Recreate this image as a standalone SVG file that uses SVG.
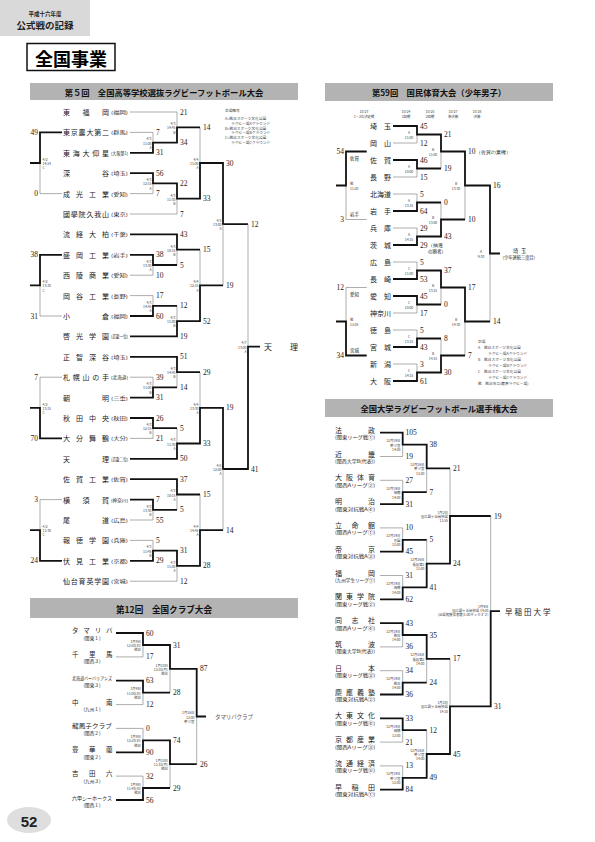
<svg xmlns="http://www.w3.org/2000/svg" width="595" height="842" viewBox="0 0 595 842">
<style>
text{font-family:"Noto Sans CJK JP","Noto Sans CJK SC",sans-serif;dominant-baseline:central;fill:#222}
.tn{font-size:7px}
.pf{font-size:4.2px}
.sc{font-family:"Liberation Serif",serif;font-size:7.5px}
.dl{font-size:3.4px;fill:#444;text-anchor:end}
.dls{font-size:3.4px;fill:#444}
.dlm{font-size:3.4px;fill:#444;text-anchor:middle}
.lg{font-size:3.7px;fill:#444}
.bar{fill:#b3b3b3}
.bt{font-size:8.3px;font-weight:bold;text-anchor:middle;fill:#111}
.th{stroke:#8a8a8a;stroke-width:0.7;fill:none}
.bd{stroke:#111;stroke-width:1.8;fill:none}
.sub{font-size:4.6px;text-anchor:middle}
.usub{font-size:4.6px}
.e{text-anchor:end}
</style>
<rect width="595" height="842" fill="#fff"/>
<!-- page header -->
<g id="page-header">
<rect x="0" y="0" width="90" height="36" fill="#d9d9d9"/>
<text x="45" y="14" style="font-size:5.5px;font-weight:bold;text-anchor:middle">平成十六年度</text>
<text x="45" y="25" style="font-size:9.5px;font-weight:bold;text-anchor:middle">公式戦の記録</text>
<rect x="27" y="43.5" width="88" height="27" fill="#fff" stroke="#111" stroke-width="1.5"/>
<text x="71" y="57.5" style="font-size:18px;font-weight:bold;text-anchor:middle;fill:#000">全国事業</text>
</g>
<g id="page-number">
<ellipse cx="29" cy="820" rx="22" ry="13" fill="#dedede"/>
<text x="29" y="821" style="font-family:'Liberation Sans',sans-serif;font-size:15px;font-weight:bold;text-anchor:middle;fill:#222">52</text>
</g>

<!-- ===== Section 1: High school ===== -->
<g id="hs-header"><rect class="bar" x="30" y="83" width="268" height="17"/><text class="bt" x="164" y="91.5">第５回　全国高等学校選抜ラグビーフットボール大会</text></g>
<g id="hs-legend">
<text class="lg" x="225" y="110">会場略号</text>
<text class="lg" x="225" y="118.5">A=熊谷スポーツ文化公園</text>
<text class="lg" x="231" y="123">ラグビー場Aグラウンド</text>
<text class="lg" x="225" y="128">B=熊谷スポーツ文化公園</text>
<text class="lg" x="231" y="132.5">ラグビー場Bグラウンド</text>
<text class="lg" x="225" y="137.5">C=熊谷スポーツ文化公園</text>
<text class="lg" x="231" y="142">ラグビー場Cグラウンド</text>
</g>
<g id="hs-t0"><text class="tn" x="63 82.5 102" y="112">東福岡</text><text class="pf" x="111" y="112" textLength="17" lengthAdjust="spacingAndGlyphs">(福岡)</text></g>
<g id="hs-t1"><text class="tn" x="63 70.8 78.6 86.4 94.2 102" y="132.4">東京農大第二</text><text class="pf" x="111" y="132.4" textLength="17" lengthAdjust="spacingAndGlyphs">(群馬)</text></g>
<g id="hs-t2"><text class="tn" x="63 72.75 82.5 92.25 102" y="152.8">東海大仰星</text><text class="pf" x="111" y="152.8" textLength="17" lengthAdjust="spacingAndGlyphs">(大阪第1)</text></g>
<g id="hs-t3"><text class="tn" x="63 102" y="173.2">深谷</text><text class="pf" x="111" y="173.2" textLength="17" lengthAdjust="spacingAndGlyphs">(埼玉)</text></g>
<g id="hs-t4"><text class="tn" x="63 76 89 102" y="193.6">成光工業</text><text class="pf" x="111" y="193.6" textLength="17" lengthAdjust="spacingAndGlyphs">(愛知)</text></g>
<g id="hs-t5"><text class="tn" x="63 70.8 78.6 86.4 94.2 102" y="214">國學院久我山</text><text class="pf" x="111" y="214" textLength="17" lengthAdjust="spacingAndGlyphs">(東京)</text></g>
<g id="hs-t6"><text class="tn" x="63 76 89 102" y="234.4">流経大柏</text><text class="pf" x="111" y="234.4" textLength="17" lengthAdjust="spacingAndGlyphs">(千葉)</text></g>
<g id="hs-t7"><text class="tn" x="63 76 89 102" y="254.8">盛岡工業</text><text class="pf" x="111" y="254.8" textLength="17" lengthAdjust="spacingAndGlyphs">(岩手)</text></g>
<g id="hs-t8"><text class="tn" x="63 76 89 102" y="275.2">西陵商業</text><text class="pf" x="111" y="275.2" textLength="17" lengthAdjust="spacingAndGlyphs">(愛知)</text></g>
<g id="hs-t9"><text class="tn" x="63 76 89 102" y="295.6">岡谷工業</text><text class="pf" x="111" y="295.6" textLength="17" lengthAdjust="spacingAndGlyphs">(長野)</text></g>
<g id="hs-t10"><text class="tn" x="63 102" y="316">小倉</text><text class="pf" x="111" y="316" textLength="17" lengthAdjust="spacingAndGlyphs">(福岡)</text></g>
<g id="hs-t11"><text class="tn" x="63 76 89 102" y="336.4">啓光学園</text><text class="pf" x="111" y="336.4" textLength="17" lengthAdjust="spacingAndGlyphs">(近畿一位)</text></g>
<g id="hs-t12"><text class="tn" x="63 76 89 102" y="356.8">正智深谷</text><text class="pf" x="111" y="356.8" textLength="17" lengthAdjust="spacingAndGlyphs">(埼玉)</text></g>
<g id="hs-t13"><text class="tn" x="63 72.75 82.5 92.25 102" y="377.2">札幌山の手</text><text class="pf" x="111" y="377.2" textLength="17" lengthAdjust="spacingAndGlyphs">(北海道)</text></g>
<g id="hs-t14"><text class="tn" x="63 102" y="397.6">朝明</text><text class="pf" x="111" y="397.6" textLength="17" lengthAdjust="spacingAndGlyphs">(三重)</text></g>
<g id="hs-t15"><text class="tn" x="63 76 89 102" y="418">秋田中央</text><text class="pf" x="111" y="418" textLength="17" lengthAdjust="spacingAndGlyphs">(秋田)</text></g>
<g id="hs-t16"><text class="tn" x="63 76 89 102" y="438.4">大分舞鶴</text><text class="pf" x="111" y="438.4" textLength="17" lengthAdjust="spacingAndGlyphs">(大分)</text></g>
<g id="hs-t17"><text class="tn" x="63 102" y="458.8">天理</text><text class="pf" x="111" y="458.8" textLength="17" lengthAdjust="spacingAndGlyphs">(近畿二位)</text></g>
<g id="hs-t18"><text class="tn" x="63 76 89 102" y="479.2">佐賀工業</text><text class="pf" x="111" y="479.2" textLength="17" lengthAdjust="spacingAndGlyphs">(佐賀)</text></g>
<g id="hs-t19"><text class="tn" x="63 82.5 102" y="499.6">横須賀</text><text class="pf" x="111" y="499.6" textLength="17" lengthAdjust="spacingAndGlyphs">(神奈川)</text></g>
<g id="hs-t20"><text class="tn" x="63 102" y="520">尾道</text><text class="pf" x="111" y="520" textLength="17" lengthAdjust="spacingAndGlyphs">(広島)</text></g>
<g id="hs-t21"><text class="tn" x="63 76 89 102" y="540.4">報徳学園</text><text class="pf" x="111" y="540.4" textLength="17" lengthAdjust="spacingAndGlyphs">(兵庫)</text></g>
<g id="hs-t22"><text class="tn" x="63 76 89 102" y="560.8">伏見工業</text><text class="pf" x="111" y="560.8" textLength="17" lengthAdjust="spacingAndGlyphs">(京都)</text></g>
<g id="hs-t23"><text class="tn" x="63 70.8 78.6 86.4 94.2 102" y="581.2">仙台育英学園</text><text class="pf" x="111" y="581.2" textLength="17" lengthAdjust="spacingAndGlyphs">(宮城)</text></g>
<g id="hs-champion"><text x="264 290" y="346.6" style="font-size:8px">天理</text></g>

<g id="hs-connectors">
<path class="th" d="M130 112H177V127.3M130 132.4H153V142.6M130 193.6H153V183.4M130 214H177V198.7M200 127.3V163M40 163V193.6H62"/>
<path class="bd" d="M130 152.8H153V142.6H177V127.3H200M130 173.2H153V183.4H177V198.7H200V163H223V224.2H248M62 132.4H40V163H30"/>
<path class="th" d="M130 275.2H153V265M177 249.7V265M130 295.6H153V305.8M177 305.8V321.1M200 249.7V285.4M223 285.4V224.2M40 285.4V316H62M248 224.2V346.6"/>
<path class="bd" d="M130 234.4H177V249.7H200M130 254.8H153V265H177M130 316H153V305.8H177M130 336.4H177V321.1H200V285.4H223M62 254.8H40V285.4H30"/>
<path class="th" d="M130 377.2H153V387.4M177 372.1V387.4M130 438.4H153V428.2M177 428.2V443.5M200 372.1V407.8M62 377.2H40V407.8"/>
<path class="bd" d="M130 356.8H177V372.1H200M130 397.6H153V387.4H177M130 418H153V428.2H177M130 458.8H177V443.5H200V407.8H223V469H248V346.6H260M62 438.4H40V407.8H30"/>
<path class="th" d="M130 520H153V509.8M177 494.5V509.8M130 540.4H153V550.6M177 565.9V581.2H130M200 494.5V530.2M223 530.2V469M62 499.6H40V530.2"/>
<path class="bd" d="M130 479.2H177V494.5H200M130 499.6H153V509.8H177M130 560.8H153V550.6H177V565.9H200V530.2H223M62 560.8H40V530.2H30"/>
</g>

<g id="hs-scores" class="sc">
<text class="sc" x="180" y="112">21</text><text class="sc" x="156" y="132.4">7</text><text class="sc" x="156" y="152.8">31</text><text class="sc" x="180" y="142.6">34</text><text class="sc" x="203" y="127.3">14</text><text class="sc" x="156" y="173.2">56</text><text class="sc" x="156" y="193.6">7</text><text class="sc" x="180" y="183.4">22</text><text class="sc" x="180" y="214">7</text><text class="sc" x="203" y="198.7">33</text><text class="sc" x="226" y="163">30</text>
<text class="sc e" x="38" y="132.4">49</text><text class="sc e" x="38" y="193.6">0</text>
<text class="sc" x="180" y="234.4">43</text><text class="sc" x="156" y="254.8">38</text><text class="sc" x="156" y="275.2">10</text><text class="sc" x="180" y="265">5</text><text class="sc" x="203" y="249.7">15</text><text class="sc" x="156" y="295.6">17</text><text class="sc" x="156" y="316">60</text><text class="sc" x="180" y="305.8">12</text><text class="sc" x="180" y="336.4">19</text><text class="sc" x="203" y="321.1">52</text><text class="sc" x="226" y="285.4">19</text>
<text class="sc e" x="38" y="254.8">38</text><text class="sc e" x="38" y="316">31</text>
<text class="sc" x="180" y="356.8">51</text><text class="sc" x="156" y="377.2">39</text><text class="sc" x="156" y="397.6">31</text><text class="sc" x="180" y="387.4">14</text><text class="sc" x="203" y="372.1">29</text><text class="sc" x="156" y="418">26</text><text class="sc" x="156" y="438.4">21</text><text class="sc" x="180" y="428.2">5</text><text class="sc" x="180" y="458.8">50</text><text class="sc" x="203" y="443.5">33</text><text class="sc" x="226" y="407.8">19</text>
<text class="sc e" x="38" y="377.2">7</text><text class="sc e" x="38" y="438.4">70</text>
<text class="sc" x="180" y="479.2">37</text><text class="sc" x="156" y="499.6">7</text><text class="sc" x="156" y="520">55</text><text class="sc" x="180" y="509.8">5</text><text class="sc" x="203" y="494.5">15</text><text class="sc" x="156" y="540.4">5</text><text class="sc" x="156" y="560.8">29</text><text class="sc" x="180" y="550.6">31</text><text class="sc" x="180" y="581.2">12</text><text class="sc" x="203" y="565.9">28</text><text class="sc" x="226" y="530.2">14</text>
<text class="sc e" x="38" y="499.6">3</text><text class="sc e" x="38" y="560.8">24</text>
<text class="sc" x="251" y="224.2">12</text><text class="sc" x="251" y="469">41</text>
</g>

<g id="hs-dates">
<text class="dl" x="151.5" y="138.4"><tspan x="151.5">4/3</tspan><tspan x="151.5" dy="4.2">11:00</tspan><tspan x="151.5" dy="4.2">A</tspan></text>
<text class="dl" x="175.5" y="123.1"><tspan x="175.5">4/3</tspan><tspan x="175.5" dy="4.2">14:45</tspan><tspan x="175.5" dy="4.2">B</tspan></text>
<text class="dl" x="151.5" y="179.2"><tspan x="151.5">4/3</tspan><tspan x="151.5" dy="4.2">12:15</tspan><tspan x="151.5" dy="4.2">A</tspan></text>
<text class="dl" x="175.5" y="194.5"><tspan x="175.5">4/3</tspan><tspan x="175.5" dy="4.2">11:30</tspan><tspan x="175.5" dy="4.2">B</tspan></text>
<text class="dl" x="198.5" y="158.8"><tspan x="198.5">4/4</tspan><tspan x="198.5" dy="4.2">11:00</tspan><tspan x="198.5" dy="4.2">A</tspan></text>
<text class="dls" x="42.5" y="158.8"><tspan x="42.5">4/2</tspan><tspan x="42.5" dy="4.2">14:14</tspan><tspan x="42.5" dy="4.2">C</tspan></text>
<text class="dl" x="151.5" y="260.8"><tspan x="151.5">4/3</tspan><tspan x="151.5" dy="4.2">13:30</tspan><tspan x="151.5" dy="4.2">A</tspan></text>
<text class="dl" x="175.5" y="245.5"><tspan x="175.5">4/3</tspan><tspan x="175.5" dy="4.2">10:15</tspan><tspan x="175.5" dy="4.2">B</tspan></text>
<text class="dl" x="151.5" y="301.6"><tspan x="151.5">4/3</tspan><tspan x="151.5" dy="4.2">14:45</tspan><tspan x="151.5" dy="4.2">A</tspan></text>
<text class="dl" x="175.5" y="316.9"><tspan x="175.5">4/3</tspan><tspan x="175.5" dy="4.2">11:00</tspan><tspan x="175.5" dy="4.2">B</tspan></text>
<text class="dl" x="198.5" y="281.2"><tspan x="198.5">4/4</tspan><tspan x="198.5" dy="4.2">12:15</tspan><tspan x="198.5" dy="4.2">A</tspan></text>
<text class="dls" x="42.5" y="281.2"><tspan x="42.5">4/2</tspan><tspan x="42.5" dy="4.2">13:30</tspan><tspan x="42.5" dy="4.2">C</tspan></text>
<text class="dl" x="151.5" y="383.2"><tspan x="151.5">4/3</tspan><tspan x="151.5" dy="4.2">11:00</tspan><tspan x="151.5" dy="4.2">B</tspan></text>
<text class="dl" x="175.5" y="367.9"><tspan x="175.5">4/3</tspan><tspan x="175.5" dy="4.2">14:45</tspan><tspan x="175.5" dy="4.2">B</tspan></text>
<text class="dl" x="151.5" y="424"><tspan x="151.5">4/3</tspan><tspan x="151.5" dy="4.2">12:15</tspan><tspan x="151.5" dy="4.2">B</tspan></text>
<text class="dl" x="175.5" y="439.3"><tspan x="175.5">4/3</tspan><tspan x="175.5" dy="4.2">11:30</tspan><tspan x="175.5" dy="4.2">A</tspan></text>
<text class="dl" x="198.5" y="403.6"><tspan x="198.5">4/4</tspan><tspan x="198.5" dy="4.2">13:30</tspan><tspan x="198.5" dy="4.2">A</tspan></text>
<text class="dls" x="42.5" y="403.6"><tspan x="42.5">4/2</tspan><tspan x="42.5" dy="4.2">13:15</tspan><tspan x="42.5" dy="4.2">C</tspan></text>
<text class="dl" x="151.5" y="505.6"><tspan x="151.5">4/3</tspan><tspan x="151.5" dy="4.2">13:30</tspan><tspan x="151.5" dy="4.2">B</tspan></text>
<text class="dl" x="175.5" y="490.3"><tspan x="175.5">4/3</tspan><tspan x="175.5" dy="4.2">10:15</tspan><tspan x="175.5" dy="4.2">A</tspan></text>
<text class="dl" x="151.5" y="546.4"><tspan x="151.5">4/3</tspan><tspan x="151.5" dy="4.2">11:45</tspan><tspan x="151.5" dy="4.2">B</tspan></text>
<text class="dl" x="175.5" y="561.7"><tspan x="175.5">4/3</tspan><tspan x="175.5" dy="4.2">11:00</tspan><tspan x="175.5" dy="4.2">A</tspan></text>
<text class="dl" x="198.5" y="526"><tspan x="198.5">4/4</tspan><tspan x="198.5" dy="4.2">14:45</tspan><tspan x="198.5" dy="4.2">A</tspan></text>
<text class="dls" x="42.5" y="526"><tspan x="42.5">4/2</tspan><tspan x="42.5" dy="4.2">11:30</tspan><tspan x="42.5" dy="4.2">C</tspan></text>
<text class="dl" x="221.5" y="220"><tspan x="221.5">4/5</tspan><tspan x="221.5" dy="4.2">13:00</tspan><tspan x="221.5" dy="4.2">A</tspan></text>
<text class="dl" x="221.5" y="464.8"><tspan x="221.5">4/5</tspan><tspan x="221.5" dy="4.2">12:00</tspan><tspan x="221.5" dy="4.2">A</tspan></text>
<text class="dl" x="246.5" y="342.4"><tspan x="246.5">4/7</tspan><tspan x="246.5" dy="4.2">13:00</tspan><tspan x="246.5" dy="4.2">A</tspan></text>
</g>

<!-- ===== Section 2: Club ===== -->
<g id="club-header"><rect class="bar" x="30" y="598" width="268" height="20"/><text class="bt" x="164" y="608.5" style="font-size:8.6px">第12回　全国クラブ大会</text></g>
<g id="club-t0"><text class="tn" x="72 83.3 94.7 106" y="630" style="font-size:6.5px">タマリバ</text><text class="sub" x="92" y="637.5">(関東１)</text></g>
<g id="club-t1"><text class="tn" x="72 89 106" y="653.9" style="font-size:6.5px">千里馬</text><text class="sub" x="92" y="661.4">(関西３)</text></g>
<g id="club-t2"><text class="tn" x="72" y="677.7" textLength="40" lengthAdjust="spacingAndGlyphs" style="font-size:4.4px">北海道バーバリアンズ</text><text class="sub" x="92" y="685.2">(関東３)</text></g>
<g id="club-t3"><text class="tn" x="72 106" y="701.6" style="font-size:6.5px">中南</text><text class="sub" x="92" y="709.1">(九州１)</text></g>
<g id="club-t4"><text class="tn" x="72" y="725.4" textLength="40" lengthAdjust="spacingAndGlyphs" style="font-size:6px">龍鳳子クラブ</text><text class="sub" x="92" y="732.9">(関西２)</text></g>
<g id="club-t5"><text class="tn" x="72 89 106" y="749.3" style="font-size:6.5px">豊華蘭</text><text class="sub" x="92" y="756.8">(関東２)</text></g>
<g id="club-t6"><text class="tn" x="72 89 106" y="773.1" style="font-size:6.5px">吉田六</text><text class="sub" x="92" y="780.6">(九州３)</text></g>
<g id="club-t7"><text class="tn" x="72" y="797" textLength="40" lengthAdjust="spacingAndGlyphs" style="font-size:5px">六甲シーホークス</text><text class="sub" x="92" y="804.5">(関西１)</text></g>
<g id="club-champion"><text x="215" y="716.5" textLength="38" lengthAdjust="spacing" style="font-size:5.6px;fill:#555">タマリバクラブ</text></g>
<g id="club-connectors">
<path class="th" d="M116 656.9H143V645M116 704.6H143V692.6M170 668.8V692.6M116 728.4H143V740.4M116 776.1H143V788M170 764.2V788M196.7 716.5V764.2"/>
<path class="bd" d="M116 633H143V645H170V668.8H196.7V716.5H206M116 680.7H143V692.6H170M116 752.3H143V740.4H170V764.2H196.7M116 800H143V788H170"/>
</g>
<g id="club-scores">
<text class="sc" x="146" y="633">60</text><text class="sc" x="146" y="656.9">17</text><text class="sc" x="146" y="680.7">63</text><text class="sc" x="146" y="704.6">12</text><text class="sc" x="146" y="728.4">0</text><text class="sc" x="146" y="752.3">90</text><text class="sc" x="146" y="776.1">32</text><text class="sc" x="146" y="800">56</text>
<text class="sc" x="173" y="645">31</text><text class="sc" x="173" y="692.6">28</text><text class="sc" x="173" y="740.4">74</text><text class="sc" x="173" y="788">29</text>
<text class="sc" x="200" y="668.8">87</text><text class="sc" x="200" y="764.2">26</text>
</g>
<g id="club-dates">
<text class="dl" x="141" y="640.8"><tspan x="141">1月9日</tspan><tspan x="141" dy="4.2">12:00(日)</tspan><tspan x="141" dy="4.2">熊谷</tspan></text>
<text class="dl" x="141" y="688.4"><tspan x="141">1月9日</tspan><tspan x="141" dy="4.2">11:00(日)</tspan><tspan x="141" dy="4.2">熊谷</tspan></text>
<text class="dl" x="141" y="736.2"><tspan x="141">1月9日</tspan><tspan x="141" dy="4.2">13:20(日)</tspan><tspan x="141" dy="4.2">熊谷</tspan></text>
<text class="dl" x="141" y="783.8"><tspan x="141">1月9日</tspan><tspan x="141" dy="4.2">11:40(日)</tspan><tspan x="141" dy="4.2">熊谷</tspan></text>
<text class="dl" x="168" y="664.6"><tspan x="168">1月10日</tspan><tspan x="168" dy="4.2">13:30(月)</tspan><tspan x="168" dy="4.2">熊谷</tspan></text>
<text class="dl" x="168" y="760"><tspan x="168">1月10日</tspan><tspan x="168" dy="4.2">11:10(月)</tspan><tspan x="168" dy="4.2">熊谷</tspan></text>
<text class="dl" x="194.5" y="712.3"><tspan x="194.5">1月16日</tspan><tspan x="194.5" dy="4.2">12:00</tspan><tspan x="194.5" dy="4.2">秩父宮</tspan></text>
</g>

<!-- ===== Section 3: Kokutai ===== -->
<g id="kt-header"><rect class="bar" x="325" y="83" width="228" height="18"/><text class="bt" x="439" y="92">第59回　国民体育大会（少年男子）</text></g>
<g id="kt-columns">
<text class="dlm" x="364" y="111.5">10/27</text><text class="dlm" x="364" y="116">1・2位決定戦</text>
<text class="dlm" x="406" y="111.5">10/24</text><text class="dlm" x="406" y="116">1回戦</text>
<text class="dlm" x="430" y="111.5">10/25</text><text class="dlm" x="430" y="116">2回戦</text>
<text class="dlm" x="453" y="111.5">10/27</text><text class="dlm" x="453" y="116">準決勝</text>
<text class="dlm" x="477" y="111.5">10/28</text><text class="dlm" x="477" y="116">決勝</text>
</g>
<g id="kt-t0"><text class="tn" x="370 384" y="126">埼玉</text></g>
<g id="kt-t1"><text class="tn" x="370 384" y="143">岡山</text></g>
<g id="kt-t2"><text class="tn" x="370 384" y="160">佐賀</text></g>
<g id="kt-t3"><text class="tn" x="370 384" y="177">長野</text></g>
<g id="kt-t4"><text class="tn" x="370 377 384" y="194">北海道</text></g>
<g id="kt-t5"><text class="tn" x="370 384" y="211">岩手</text></g>
<g id="kt-t6"><text class="tn" x="370 384" y="228">兵庫</text></g>
<g id="kt-t7"><text class="tn" x="370 384" y="245">茨城</text></g>
<g id="kt-t8"><text class="tn" x="370 384" y="262">広島</text></g>
<g id="kt-t9"><text class="tn" x="370 384" y="279">長崎</text></g>
<g id="kt-t10"><text class="tn" x="370 384" y="296">愛知</text></g>
<g id="kt-t11"><text class="tn" x="370 377 384" y="313">神奈川</text></g>
<g id="kt-t12"><text class="tn" x="370 384" y="330">徳島</text></g>
<g id="kt-t13"><text class="tn" x="370 384" y="347">宮城</text></g>
<g id="kt-t14"><text class="tn" x="370 384" y="364">新潟</text></g>
<g id="kt-t15"><text class="tn" x="370 384" y="381">大阪</text></g>
<g id="kt-champion"><text x="513 521" y="250" style="font-size:5.2px">埼玉</text><text x="500" y="257.3" style="font-size:4.2px">（少年連続三度目）</text></g>
<g id="kt-connectors">
<path class="th" d="M393 143H417V134.5M393 177H417V168.5M441 151.5V168.5M393 194H417V202.5M393 228H417V236.5M441 202.5V219.5M465 185.5V219.5M393 262H417V270.5M393 313H417V304.5M441 287.5V304.5M393 330H417V338.5M393 364H417V372.5M441 338.5V355.5M465 321.5V355.5M490 253.5V321.5M346 185.5V219.5H366.7M366.7 287.5H346V321.5"/>
<path class="bd" d="M393 126H417V134.5H441V151.5H465V185.5H490V253.5H500M393 160H417V168.5H441M393 211H417V202.5H441M393 245H417V236.5H441V219.5H465M393 279H417V270.5H441V287.5H465V321.5H490M393 296H417V304.5H441M393 347H417V338.5H441M393 381H417V372.5H441V355.5H465M366.7 151.5H346V185.5H336M366.7 355.5H346V321.5H336"/>
</g>
<g id="kt-scores">
<text class="sc" x="420" y="126">45</text><text class="sc" x="420" y="143">12</text><text class="sc" x="420" y="160">46</text><text class="sc" x="420" y="177">15</text><text class="sc" x="420" y="194">5</text><text class="sc" x="420" y="211">64</text><text class="sc" x="420" y="228">29</text>
<text class="sc" x="420" y="245">29<tspan style="font-size:4.5px">（抽選</tspan></text><text x="428" y="251" style="font-size:4.5px">の勝者）</text>
<text class="sc" x="420" y="262">5</text><text class="sc" x="420" y="279">53</text><text class="sc" x="420" y="296">45</text><text class="sc" x="420" y="313">17</text><text class="sc" x="420" y="330">5</text><text class="sc" x="420" y="347">43</text><text class="sc" x="420" y="364">3</text><text class="sc" x="420" y="381">61</text>
<text class="sc" x="444" y="134.5">21</text><text class="sc" x="444" y="168.5">19</text><text class="sc" x="444" y="202.5">0</text><text class="sc" x="444" y="236.5">43</text><text class="sc" x="444" y="270.5">37</text><text class="sc" x="444" y="304.5">0</text><text class="sc" x="444" y="338.5">8</text><text class="sc" x="444" y="372.5">30</text>
<text class="sc" x="468" y="151.5">10<tspan style="font-size:4.5px">（佐賀の棄権）</tspan></text><text class="sc" x="468" y="219.5">10</text><text class="sc" x="468" y="287.5">17</text><text class="sc" x="468" y="355.5">7</text>
<text class="sc" x="493" y="185.5">16</text><text class="sc" x="493" y="321.5">14</text>
<text class="sc e" x="344" y="151.5">54</text><text class="sc e" x="344" y="219.5">3</text><text class="sc e" x="344" y="287.5">12</text><text class="sc e" x="344" y="355.5">34</text>
<text x="350" y="158" style="font-size:4.5px">佐賀</text><text x="350" y="214" style="font-size:4.5px">岩手</text><text x="350" y="294" style="font-size:4.5px">愛知</text><text x="350" y="350" style="font-size:4.5px">宮城</text>
</g>
<g id="kt-dates">
<text class="dls" x="350" y="183"><tspan x="350">熊</tspan><tspan x="350" dy="5">11:30</tspan></text>
<text class="dls" x="350" y="319"><tspan x="350">熊</tspan><tspan x="350" dy="5">12:05</tspan></text>
<text class="dlm" x="409" y="132.2"><tspan x="409">A</tspan><tspan x="409" dy="5">11:00</tspan></text>
<text class="dlm" x="409" y="166.2"><tspan x="409">A</tspan><tspan x="409" dy="5">10:00</tspan></text>
<text class="dlm" x="409" y="200.2"><tspan x="409">A</tspan><tspan x="409" dy="5">13:15</tspan></text>
<text class="dlm" x="409" y="234.2"><tspan x="409">A</tspan><tspan x="409" dy="5">14:15</tspan></text>
<text class="dlm" x="409" y="268.2"><tspan x="409">C</tspan><tspan x="409" dy="5">11:00</tspan></text>
<text class="dlm" x="409" y="302.2"><tspan x="409">C</tspan><tspan x="409" dy="5">10:00</tspan></text>
<text class="dlm" x="409" y="336.2"><tspan x="409">C</tspan><tspan x="409" dy="5">13:15</tspan></text>
<text class="dlm" x="409" y="370.2"><tspan x="409">C</tspan><tspan x="409" dy="5">14:15</tspan></text>
<text class="dlm" x="433" y="149.2"><tspan x="433">B</tspan><tspan x="433" dy="5">11:00</tspan></text>
<text class="dlm" x="433" y="217.2"><tspan x="433">B</tspan><tspan x="433" dy="5">13:00</tspan></text>
<text class="dlm" x="433" y="285.2"><tspan x="433">B</tspan><tspan x="433" dy="5">13:15</tspan></text>
<text class="dlm" x="433" y="353.2"><tspan x="433">B</tspan><tspan x="433" dy="5">14:15</tspan></text>
<text class="dlm" x="456" y="183.2"><tspan x="456">B</tspan><tspan x="456" dy="5">13:30</tspan></text>
<text class="dlm" x="456" y="319.2"><tspan x="456">B</tspan><tspan x="456" dy="5">14:30</tspan></text>
<text class="dlm" x="481" y="251.2"><tspan x="481">A</tspan><tspan x="481" dy="5">9:30</tspan></text>
</g>
<g id="kt-legend">
<text class="lg" x="478" y="341">会場</text>
<text class="lg" x="478" y="347">A　熊谷スポーツ文化公園</text>
<text class="lg" x="488" y="353">ラグビー場Aグラウンド</text>
<text class="lg" x="478" y="359">B　熊谷スポーツ文化公園</text>
<text class="lg" x="488" y="365">ラグビー場Bグラウンド</text>
<text class="lg" x="478" y="371">C　熊谷スポーツ文化公園</text>
<text class="lg" x="488" y="377">ラグビー場Cグラウンド</text>
<text class="lg" x="478" y="383">熊　熊谷市立(籠原ラグビー場)</text>
</g>

<!-- ===== Section 4: University ===== -->
<g id="uni-header"><rect class="bar" x="325" y="399" width="228" height="18"/><text class="bt" x="439" y="408">全国大学ラグビーフットボール選手権大会</text></g>
<g id="uni-t0"><text class="tn" x="335 368" y="429.7">法政</text><text class="usub" x="335" y="437.2" textLength="40" lengthAdjust="spacingAndGlyphs">(関東リーグ戦①)</text></g>
<g id="uni-t1"><text class="tn" x="335 368" y="453.5">近畿</text><text class="usub" x="335" y="461" textLength="40" lengthAdjust="spacingAndGlyphs">(関西大学B(代表))</text></g>
<g id="uni-t2"><text class="tn" x="335 346 357 368" y="477.3">大阪体育</text><text class="usub" x="335" y="484.8" textLength="40" lengthAdjust="spacingAndGlyphs">(関西Aリーグ②)</text></g>
<g id="uni-t3"><text class="tn" x="335 368" y="501.1">明治</text><text class="usub" x="335" y="508.6" textLength="40" lengthAdjust="spacingAndGlyphs">(関東対抗戦A④)</text></g>
<g id="uni-t4"><text class="tn" x="335 351.5 368" y="524.9">立命館</text><text class="usub" x="335" y="532.4" textLength="40" lengthAdjust="spacingAndGlyphs">(関西Aリーグ①)</text></g>
<g id="uni-t5"><text class="tn" x="335 368" y="548.7">帝京</text><text class="usub" x="335" y="556.2" textLength="40" lengthAdjust="spacingAndGlyphs">(関東対抗戦A③)</text></g>
<g id="uni-t6"><text class="tn" x="335 368" y="572.5">福岡</text><text class="usub" x="335" y="580" textLength="40" lengthAdjust="spacingAndGlyphs">(九州学生リーグ①)</text></g>
<g id="uni-t7"><text class="tn" x="335 346 357 368" y="596.3">関東学院</text><text class="usub" x="335" y="603.8" textLength="40" lengthAdjust="spacingAndGlyphs">(関東リーグ戦②)</text></g>
<g id="uni-t8"><text class="tn" x="335 351.5 368" y="620.1">同志社</text><text class="usub" x="335" y="627.6" textLength="40" lengthAdjust="spacingAndGlyphs">(関西Aリーグ④)</text></g>
<g id="uni-t9"><text class="tn" x="335 368" y="643.9">筑波</text><text class="usub" x="335" y="651.4" textLength="40" lengthAdjust="spacingAndGlyphs">(関東大学B(代表))</text></g>
<g id="uni-t10"><text class="tn" x="335 368" y="667.7">日本</text><text class="usub" x="335" y="675.2" textLength="40" lengthAdjust="spacingAndGlyphs">(関東リーグ戦③)</text></g>
<g id="uni-t11"><text class="tn" x="335 346 357 368" y="691.5">慶應義塾</text><text class="usub" x="335" y="699" textLength="40" lengthAdjust="spacingAndGlyphs">(関東対抗戦A②)</text></g>
<g id="uni-t12"><text class="tn" x="335 346 357 368" y="715.3">大東文化</text><text class="usub" x="335" y="722.8" textLength="40" lengthAdjust="spacingAndGlyphs">(関東リーグ戦④)</text></g>
<g id="uni-t13"><text class="tn" x="335 346 357 368" y="739.1">京都産業</text><text class="usub" x="335" y="746.6" textLength="40" lengthAdjust="spacingAndGlyphs">(関西Aリーグ③)</text></g>
<g id="uni-t14"><text class="tn" x="335 346 357 368" y="762.9">流通経済</text><text class="usub" x="335" y="770.4" textLength="40" lengthAdjust="spacingAndGlyphs">(関東リーグ戦⑤)</text></g>
<g id="uni-t15"><text class="tn" x="335 351.5 368" y="786.7">早稲田</text><text class="usub" x="335" y="794.2" textLength="40" lengthAdjust="spacingAndGlyphs">(関東対抗戦A①)</text></g>
<g id="uni-champion"><text x="505 514.5 524 533.5 543" y="611.2" style="font-size:7.5px">早稲田大学</text></g>
<g id="uni-connectors">
<path class="th" d="M380 456.5H402.7V444.6M380 480.3H402.7V492.2M426.7 468.4V492.2M380 527.9H402.7V539.8M380 575.5H402.7V587.4M426.7 539.8V563.6M450 468.4V516M380 646.9H402.7V635M380 670.7H402.7V682.6M426.7 658.8V682.6M380 742.1H402.7V730.2M380 765.9H402.7V777.8M426.7 730.2V754M450 658.8V706.4M490.7 516V611.2"/>
<path class="bd" d="M380 432.7H402.7V444.6H426.7V468.4H450M380 504.1H402.7V492.2H426.7M380 551.7H402.7V539.8H426.7M380 599.3H402.7V587.4H426.7V563.6H450V516H490.7M380 623.1H402.7V635H426.7V658.8H450M380 694.5H402.7V682.6H426.7M380 718.3H402.7V730.2H426.7M380 789.7H402.7V777.8H426.7V754H450V706.4H490.7V611.2H500"/>
</g>
<g id="uni-scores">
<text class="sc" x="405.5" y="432.7">105</text><text class="sc" x="405.5" y="456.5">19</text><text class="sc" x="405.5" y="480.3">27</text><text class="sc" x="405.5" y="504.1">31</text><text class="sc" x="405.5" y="527.9">10</text><text class="sc" x="405.5" y="551.7">45</text><text class="sc" x="405.5" y="575.5">31</text><text class="sc" x="405.5" y="599.3">62</text><text class="sc" x="405.5" y="623.1">43</text><text class="sc" x="405.5" y="646.9">36</text><text class="sc" x="405.5" y="670.7">34</text><text class="sc" x="405.5" y="694.5">36</text><text class="sc" x="405.5" y="718.3">33</text><text class="sc" x="405.5" y="742.1">21</text><text class="sc" x="405.5" y="765.9">13</text><text class="sc" x="405.5" y="789.7">84</text>
<text class="sc" x="429.5" y="444.6">38</text><text class="sc" x="429.5" y="492.2">7</text><text class="sc" x="429.5" y="539.8">5</text><text class="sc" x="429.5" y="587.4">41</text><text class="sc" x="429.5" y="635">35</text><text class="sc" x="429.5" y="682.6">24</text><text class="sc" x="429.5" y="730.2">12</text><text class="sc" x="429.5" y="777.8">49</text>
<text class="sc" x="453" y="468.4">21</text><text class="sc" x="453" y="563.6">24</text><text class="sc" x="453" y="658.8">17</text><text class="sc" x="453" y="754">45</text>
<text class="sc" x="494" y="516">19</text><text class="sc" x="494" y="706.4">31</text>
</g>
<g id="uni-dates">
<text class="dl" x="400.5" y="440.2"><tspan x="400.5">12月19日</tspan><tspan x="400.5" dy="4.4">秩父宮</tspan><tspan x="400.5" dy="4.4">14:00</tspan></text>
<text class="dl" x="400.5" y="487.8"><tspan x="400.5">12月19日</tspan><tspan x="400.5" dy="4.4">瑞穂</tspan><tspan x="400.5" dy="4.4">14:00</tspan></text>
<text class="dl" x="400.5" y="535.4"><tspan x="400.5">12月19日</tspan><tspan x="400.5" dy="4.4">花園</tspan><tspan x="400.5" dy="4.4">12:00</tspan></text>
<text class="dl" x="400.5" y="583"><tspan x="400.5">12月19日</tspan><tspan x="400.5" dy="4.4">瑞穂</tspan><tspan x="400.5" dy="4.4">14:00</tspan></text>
<text class="dl" x="400.5" y="630.6"><tspan x="400.5">12月19日</tspan><tspan x="400.5" dy="4.4">熊谷</tspan><tspan x="400.5" dy="4.4">14:00</tspan></text>
<text class="dl" x="400.5" y="678.2"><tspan x="400.5">12月19日</tspan><tspan x="400.5" dy="4.4">熊谷</tspan><tspan x="400.5" dy="4.4">14:00</tspan></text>
<text class="dl" x="400.5" y="725.8"><tspan x="400.5">12月19日</tspan><tspan x="400.5" dy="4.4">瑞穂</tspan><tspan x="400.5" dy="4.4">12:00</tspan></text>
<text class="dl" x="400.5" y="773.4"><tspan x="400.5">12月19日</tspan><tspan x="400.5" dy="4.4">秩父宮</tspan><tspan x="400.5" dy="4.4">12:00</tspan></text>
<text class="dl" x="424.5" y="464"><tspan x="424.5">12月26日</tspan><tspan x="424.5" dy="4.4">秩父宮</tspan><tspan x="424.5" dy="4.4">12:00</tspan></text>
<text class="dl" x="424.5" y="559.2"><tspan x="424.5">12月26日</tspan><tspan x="424.5" dy="4.4">長居第2</tspan><tspan x="424.5" dy="4.4">12:00</tspan></text>
<text class="dl" x="424.5" y="654.4"><tspan x="424.5">12月26日</tspan><tspan x="424.5" dy="4.4">長居第2</tspan><tspan x="424.5" dy="4.4">14:00</tspan></text>
<text class="dl" x="424.5" y="749.6"><tspan x="424.5">12月26日</tspan><tspan x="424.5" dy="4.4">秩父宮</tspan><tspan x="424.5" dy="4.4">14:00</tspan></text>
<text class="dl" x="448" y="511.6"><tspan x="448">1月2日</tspan><tspan x="448" dy="4.4">国立霞ヶ丘競技場</tspan><tspan x="448" dy="4.4">11:55</tspan></text>
<text class="dl" x="448" y="702"><tspan x="448">1月2日</tspan><tspan x="448" dy="4.4">国立霞ヶ丘競技場</tspan><tspan x="448" dy="4.4">14:10</tspan></text>
<text class="dl" x="488.5" y="605.6"><tspan x="488.5">1月9日</tspan><tspan x="488.5" dy="4.4">国立霞ヶ丘競技場 14:00</tspan><tspan x="488.5" dy="4.4">(出場権獲得者数(1:00キックオフ)</tspan></text>
</g>
</svg>
